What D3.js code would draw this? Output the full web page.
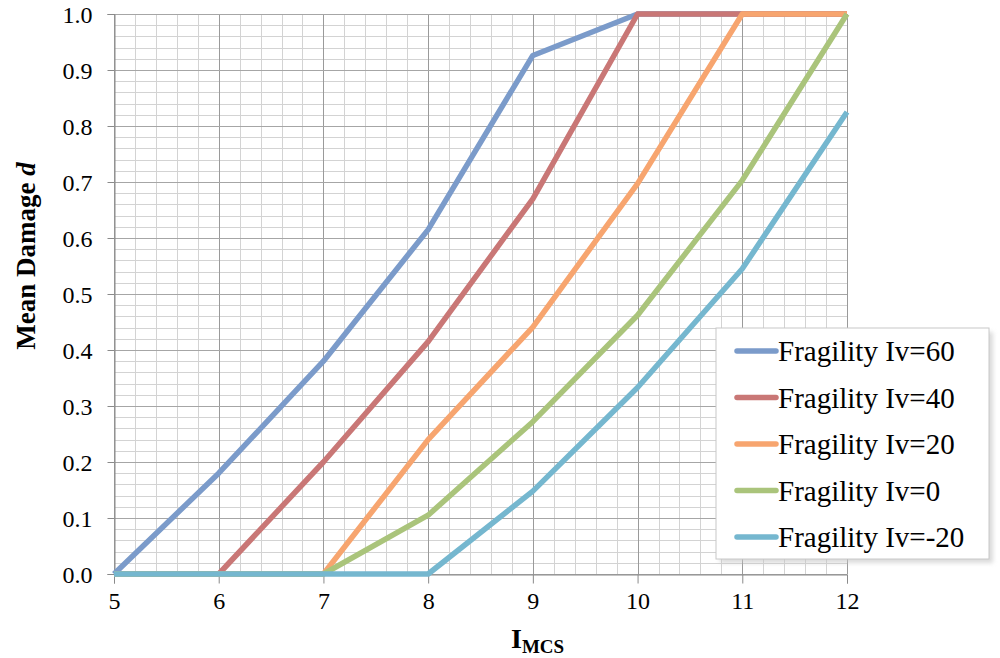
<!DOCTYPE html>
<html>
<head>
<meta charset="utf-8">
<script src="https://cdn.jsdelivr.net/npm/d3@7"></script>
<style>
  body { margin: 0; background: #fff; }
  svg { display: block; }
  svg text { font-family: "Liberation Serif", "Times New Roman", serif !important; }
</style>
</head>
<body>
<div class="chart"></div>
<script>
// data
const intensities = [5, 6, 7, 8, 9, 10, 11, 12];
const seriesNames = ["Fragility Iv=60", "Fragility Iv=40", "Fragility Iv=20", "Fragility Iv=0", "Fragility Iv=-20"];
const iv60 = [0, 0.18, 0.38, 0.615, 0.926, 1.0, 1.0, 1.0];
const iv40 = [0, 0, 0.2, 0.415, 0.67, 1.0, 1.0, 1.0];
const iv20 = [0, 0, 0, 0.24, 0.441, 0.697, 1.0, 1.0];
const iv0 = [0, 0, 0, 0.105, 0.272, 0.462, 0.703, 1.0];
const ivm20 = [0, 0, 0, 0, 0.148, 0.333, 0.545, 0.825];
const colors = ["#7b9bca", "#c97776", "#f7a56f", "#aac47b", "#75b7cf"];
const yTicks = [0, 0.1, 0.2, 0.3, 0.4, 0.5, 0.6, 0.7, 0.8, 0.9, 1.0];

const width = 1000, height = 658;
const plotLeft = 114, plotRight = 847, plotTop = 14, plotBottom = 574;

const svg = d3.select('.chart')
    .append('svg')
    .attr('width', width)
    .attr('height', height);

const x = d3.scaleLinear().domain([5, 12]).range([plotLeft, plotRight]);
const y = d3.scaleLinear().domain([0, 1]).range([plotBottom, plotTop]);

// minor grid
const minorX = d3.range(5, 12.0001, 0.2).filter(v => Math.abs(v - Math.round(v)) > 1e-6);
const minorY = d3.range(0, 1.0001, 0.02).filter(v => Math.abs(v * 10 - Math.round(v * 10)) > 1e-6);

svg.append('g').selectAll('line')
    .data(minorX).enter().append('line')
    .attr('x1', d => Math.round(x(d)) + 0.5).attr('x2', d => Math.round(x(d)) + 0.5)
    .attr('y1', plotTop).attr('y2', plotBottom)
    .attr('stroke', '#d3d3d3').attr('stroke-width', 1);

svg.append('g').selectAll('line')
    .data(minorY).enter().append('line')
    .attr('y1', d => Math.round(y(d)) + 0.5).attr('y2', d => Math.round(y(d)) + 0.5)
    .attr('x1', plotLeft).attr('x2', plotRight)
    .attr('stroke', '#d3d3d3').attr('stroke-width', 1);

// major grid
svg.append('g').selectAll('line')
    .data(intensities).enter().append('line')
    .attr('x1', d => Math.round(x(d)) + 0.5).attr('x2', d => Math.round(x(d)) + 0.5)
    .attr('y1', plotTop).attr('y2', plotBottom)
    .attr('stroke', '#9a9a9a').attr('stroke-width', 1);

svg.append('g').selectAll('line')
    .data(yTicks).enter().append('line')
    .attr('y1', d => Math.round(y(d)) + 0.5).attr('y2', d => Math.round(y(d)) + 0.5)
    .attr('x1', plotLeft).attr('x2', plotRight)
    .attr('stroke', '#a6a6a6').attr('stroke-width', 1);

// axes
const xAxis = d3.axisBottom(x).tickValues(intensities).tickSize(9).tickPadding(8).tickFormat(d3.format('d'));
const yAxis = d3.axisLeft(y).tickValues(yTicks).tickSize(7).tickPadding(15).tickFormat(d3.format('.1f'));

const gx = svg.append('g').attr('transform', `translate(0,${plotBottom + 0.5})`).call(xAxis);
const gy = svg.append('g').attr('transform', `translate(${plotLeft + 0.5},0)`).call(yAxis);

[gx, gy].forEach(g => {
    g.attr('font-family', null).attr('font-size', 24);
    g.select('.domain').attr('stroke', '#8a8a8a');
    g.selectAll('.tick line').attr('stroke', '#8a8a8a');
    g.selectAll('.tick text').attr('fill', '#000');
});
gy.selectAll('.tick text').attr('dy', '0.34em');

// lines
const allSeries = [iv60, iv40, iv20, iv0, ivm20];
const line = d3.line()
    .x((d, i) => x(intensities[i]))
    .y(d => y(d));

svg.append('g').selectAll('path')
    .data(allSeries).enter().append('path')
    .attr('d', d => line(d))
    .attr('fill', 'none')
    .attr('stroke', (d, i) => colors[i])
    .attr('stroke-width', 5.5)
    .attr('stroke-linejoin', 'round');

// axis titles
svg.append('text')
    .attr('transform', 'translate(35,256) rotate(-90)')
    .attr('text-anchor', 'middle')
    .attr('font-size', 27)
    .attr('font-weight', 'bold')
    .call(t => {
        t.append('tspan').text('Mean Damage ');
        t.append('tspan').attr('font-style', 'italic').text('d');
    });

const xt = svg.append('text')
    .attr('x', 511)
    .attr('y', 648)
    .attr('font-size', 28)
    .attr('font-weight', 'bold');
xt.append('tspan').text('I');
xt.append('tspan').attr('font-size', 19).attr('dy', 5).text('MCS');

// legend
const legend = svg.append('g').attr('transform', 'translate(716,328)');
legend.append('rect')
    .attr('x', 4).attr('y', 4).attr('width', 273).attr('height', 231)
    .attr('fill', '#c4c4c4').attr('opacity', 0.6)
    .style('filter', 'blur(2px)');
legend.append('rect')
    .attr('width', 273).attr('height', 231)
    .attr('fill', '#fff').attr('stroke', '#c8c8c8');

const rows = legend.selectAll('g.row')
    .data(seriesNames).enter().append('g')
    .attr('class', 'row')
    .attr('transform', (d, i) => `translate(0,${23 + i * 46.5})`);

rows.append('line')
    .attr('x1', 21).attr('x2', 60)
    .attr('stroke', (d, i) => colors[i])
    .attr('stroke-width', 5.5)
    .attr('stroke-linecap', 'round');

rows.append('text')
    .attr('x', 62)
    .attr('dy', '0.35em')
    .attr('font-size', 29)
    .text(d => d);
</script>
</body>
</html>
